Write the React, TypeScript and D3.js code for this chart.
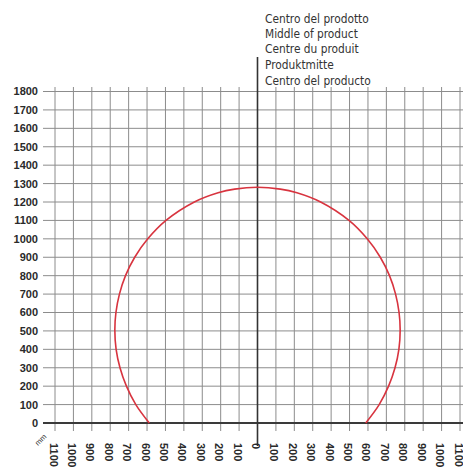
import * as d3 from 'd3';
import React from 'react';

// y-axis tick labels (mm)
const yTicks = [0, 100, 200, 300, 400, 500, 600, 700, 800, 900, 1000, 1100, 1200, 1300, 1400, 1500, 1600, 1700, 1800];
// x-axis ticks (mm), labels shown without sign
const xTicks = [-1100, -1000, -900, -800, -700, -600, -500, -400, -300, -200, -100, 0, 100, 200, 300, 400, 500, 600, 700, 800, 900, 1000, 1100];
// detection range (x mm, y mm)
const rangeX = [-588, -661, -712, -747, -768, -775, -769, -750, -717, -667, -596, -497, -343, -214, -124, 0, 124, 214, 343, 497, 596, 667, 717, 750, 769, 775, 768, 747, 712, 661, 588];
const rangeY = [0, 100, 200, 300, 400, 505, 600, 700, 800, 900, 1000, 1100, 1200, 1250, 1270, 1280, 1270, 1250, 1200, 1100, 1000, 900, 800, 700, 600, 505, 400, 300, 200, 100, 0];
const centreLabels = ['Centro del prodotto', 'Middle of product', 'Centre du produit', 'Produktmitte', 'Centro del producto'];

export default function App() {
  const W = 463, H = 470;
  const x = d3.scaleLinear().domain([-1100, 1100]).range([55, 460]);
  const y = d3.scaleLinear().domain([0, 1800]).range([423, 91.5]);

  const pts = rangeX.map((v, i) => [v, rangeY[i]] as [number, number]);
  const line = d3.line<[number, number]>()
    .x(d => x(d[0]))
    .y(d => y(d[1]))
    .curve(d3.curveCatmullRom.alpha(0.5));

  const grid = '#8c8c8c';
  const baselines = [22.5, 37.5, 53, 68.5, 85];
  return (
    <div style={{ position: 'absolute', left: 0, top: 0 }}>
      <svg width={W} height={H} style={{ display: 'block', background: '#fff' }}>
        {/* horizontal grid */}
        {yTicks.map(t => (
          <line key={'h' + t} x1={43} x2={W} y1={y(t)} y2={y(t)} stroke={grid} strokeWidth={1} />
        ))}
        {/* vertical grid */}
        {xTicks.filter(t => t !== 0).map(t => (
          <line key={'v' + t} x1={x(t)} x2={x(t)} y1={87} y2={431} stroke={grid} strokeWidth={1} />
        ))}
        {/* x axis */}
        <line x1={43} x2={W} y1={y(0)} y2={y(0)} stroke="#3a3a3a" strokeWidth={2} />
        {/* centre line */}
        <line x1={x(0)} x2={x(0)} y1={57} y2={446} stroke="#333" strokeWidth={1.6} />
        {/* range curve */}
        <path d={line(pts) || ''} fill="none" stroke="#d8343f" strokeWidth={1.6} />
        {/* y labels */}
        {yTicks.map(t => (
          <text key={'yl' + t} x={38} y={y(t)} dy="0.36em" textAnchor="end"
            fontFamily="Liberation Sans, Arial, sans-serif" fontSize={11} fontWeight="bold" fill="#2a2a2a">{t}</text>
        ))}
        {/* x labels */}
        {xTicks.map(t => (
          <text key={'xl' + t} transform={`translate(${x(t) - 1.5},443) rotate(90)`} dy="0.36em" textAnchor="start"
            fontFamily="Liberation Sans, Arial, sans-serif" fontSize={11} fontWeight="bold" fill="#2a2a2a">{Math.abs(t)}</text>
        ))}
        <text transform="translate(38,446) rotate(-45)" fontFamily="Liberation Sans, Arial, sans-serif" fontSize={7.5} fill="#333">mm</text>
        {/* centre annotation */}
        {centreLabels.map((s, i) => (
          <text key={s} x={265} y={baselines[i]} fontFamily="DejaVu Sans Condensed, DejaVu Sans, sans-serif"
            fontSize={11.8} fill="#333">{s}</text>
        ))}
      </svg>
    </div>
  );
}
